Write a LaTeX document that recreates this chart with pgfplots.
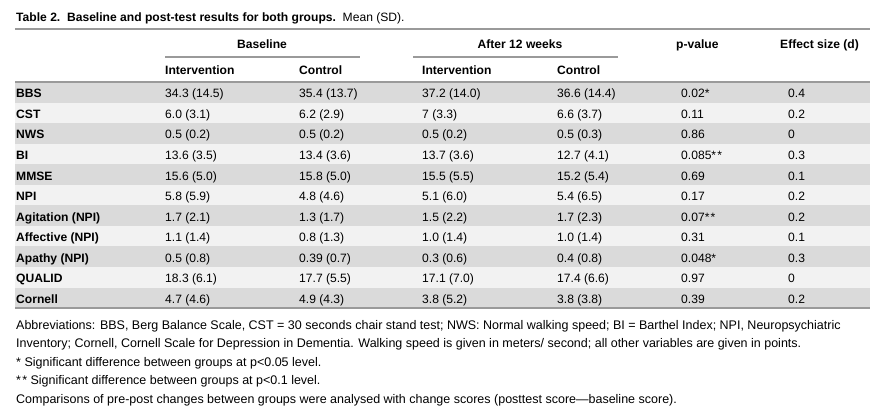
\documentclass[border=0pt]{standalone}
\usepackage{pgfplots}
\pgfplotsset{compat=1.18}
\usepackage{fontspec}
\setmainfont{Liberation Sans}
\definecolor{rowdark}{HTML}{DADADA}
\definecolor{rowlight}{HTML}{F2F2F2}
\definecolor{rulec}{HTML}{9A9A9A}
\newcommand{\dstar}{*\kern1.2pt*}
\begin{document}
\begin{tikzpicture}
\begin{axis}[scale only axis, width=889pt, height=409pt,
  xmin=0, xmax=889, ymin=0, ymax=409, y dir=reverse,
  hide axis, clip=false]
\path (axis cs:0,0) rectangle (axis cs:889,409);
% row shading
\foreach \i in {0,...,10}{
  \pgfmathsetmacro{\ya}{82+20.55*\i}
  \pgfmathsetmacro{\yb}{82+20.55*(\i+1)}
  \pgfmathtruncatemacro{\odd}{mod(\i,2)}
  \ifnum\odd=0
    \edef\tmp{\noexpand\fill[rowdark] (axis cs:15,\ya) rectangle (axis cs:870,\yb);}\tmp
  \else
    \edef\tmp{\noexpand\fill[rowlight] (axis cs:15,\ya) rectangle (axis cs:870,\yb);}\tmp
  \fi
}
% rules
\draw[rulec, line width=1.6pt] (axis cs:15,29) -- (axis cs:870,29);
\draw[rulec, line width=1.6pt] (axis cs:15,82) -- (axis cs:870,82);
\draw[rulec, line width=1.6pt] (axis cs:15,308) -- (axis cs:870,308);
\draw[rulec, line width=1.6pt] (axis cs:165,57) -- (axis cs:360,57);
\draw[rulec, line width=1.6pt] (axis cs:413,57) -- (axis cs:618,57);
\tikzset{t/.style={anchor=base west, inner sep=0pt, font=\fontsize{12.1}{14}\selectfont},
  f/.style={anchor=base west, inner sep=0pt, font=\fontsize{12.5}{14}\selectfont}}
% title
\node[t] at (axis cs:16,21.5) {\textbf{Table 2.\ \ Baseline and post-test results for both groups.}\ \ Mean (SD).};
% headers
\node[t, anchor=base] at (axis cs:262,48.5) {\textbf{Baseline}};
\node[t, anchor=base] at (axis cs:520,48.5) {\textbf{After 12 weeks}};
\node[t] at (axis cs:676,48.5) {\textbf{p-value}};
\node[t] at (axis cs:780,48.5) {\textbf{Effect size (d)}};
\node[t] at (axis cs:165,74.5) {\textbf{Intervention}};
\node[t] at (axis cs:299,74.5) {\textbf{Control}};
\node[t] at (axis cs:422,74.5) {\textbf{Intervention}};
\node[t] at (axis cs:557,74.5) {\textbf{Control}};
% body
\foreach \lab/\a/\b/\c/\d/\p/\e [count=\k from 0] in {
  BBS/34.3 (14.5)/35.4 (13.7)/37.2 (14.0)/36.6 (14.4)/0.02*/0.4,
  CST/6.0 (3.1)/6.2 (2.9)/7 (3.3)/6.6 (3.7)/0.11/0.2,
  NWS/0.5 (0.2)/0.5 (0.2)/0.5 (0.2)/0.5 (0.3)/0.86/0,
  BI/13.6 (3.5)/13.4 (3.6)/13.7 (3.6)/12.7 (4.1)/0.085\dstar/0.3,
  MMSE/15.6 (5.0)/15.8 (5.0)/15.5 (5.5)/15.2 (5.4)/0.69/0.1,
  NPI/5.8 (5.9)/4.8 (4.6)/5.1 (6.0)/5.4 (6.5)/0.17/0.2,
  Agitation (NPI)/1.7 (2.1)/1.3 (1.7)/1.5 (2.2)/1.7 (2.3)/0.07\dstar/0.2,
  Affective (NPI)/1.1 (1.4)/0.8 (1.3)/1.0 (1.4)/1.0 (1.4)/0.31/0.1,
  Apathy (NPI)/0.5 (0.8)/0.39 (0.7)/0.3 (0.6)/0.4 (0.8)/0.048*/0.3,
  QUALID/18.3 (6.1)/17.7 (5.5)/17.1 (7.0)/17.4 (6.6)/0.97/0,
  Cornell/4.7 (4.6)/4.9 (4.3)/3.8 (5.2)/3.8 (3.8)/0.39/0.2}{
  \pgfmathsetmacro{\yy}{97.8+20.55*\k}
  \edef\tmp{\noexpand\node[t] at (axis cs:16,\yy) {\noexpand\textbf{\lab}};
    \noexpand\node[t] at (axis cs:165,\yy) {\a};
    \noexpand\node[t] at (axis cs:299,\yy) {\b};
    \noexpand\node[t] at (axis cs:422,\yy) {\c};
    \noexpand\node[t] at (axis cs:557,\yy) {\d};
    \noexpand\node[t] at (axis cs:681,\yy) {\p};
    \noexpand\node[t] at (axis cs:788,\yy) {\e};}\tmp
}
% footnotes
\node[f] at (axis cs:16,329) {Abbreviations: BBS, Berg Balance Scale, CST = 30 seconds chair stand test; NWS: Normal walking speed; BI = Barthel Index; NPI, Neuropsychiatric};
\node[f] at (axis cs:16,347.5) {Inventory; Cornell, Cornell Scale for Depression in Dementia. Walking speed is given in meters/ second; all other variables are given in points.};
\node[f] at (axis cs:16,366) {* Significant difference between groups at p<0.05 level.};
\node[f] at (axis cs:16,384.5) {\dstar\ Significant difference between groups at p<0.1 level.};
\node[f] at (axis cs:16,403) {Comparisons of pre-post changes between groups were analysed with change scores (posttest score---baseline score).};
\end{axis}
\end{tikzpicture}
\end{document}
